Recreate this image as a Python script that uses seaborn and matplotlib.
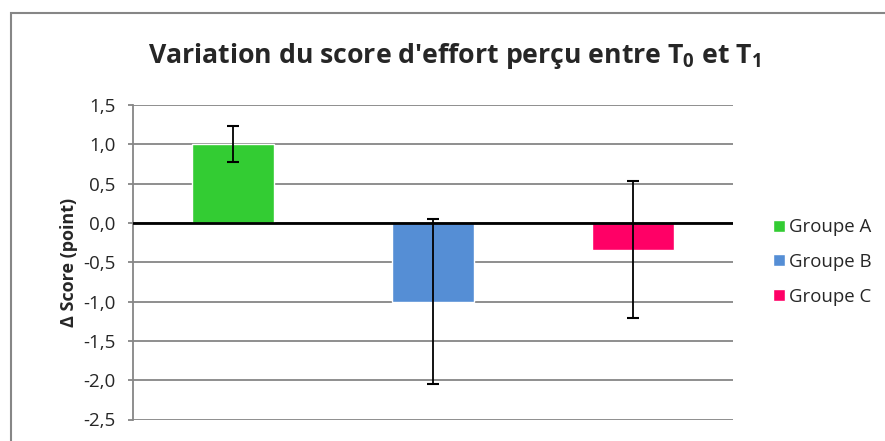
import matplotlib
matplotlib.use('Agg')
import matplotlib.pyplot as plt
from matplotlib.patches import Rectangle, Patch
from matplotlib.ticker import FuncFormatter
import seaborn as sns
import pandas as pd

# data
groups = ['Groupe A', 'Groupe B', 'Groupe C']
delta_score = [1.0, -1.0, -0.34]
error = [0.23, 1.045, 0.875]
colors = ['#33CC33', '#558ED5', '#FF0066']
yticks = [-2.5, -2.0, -1.5, -1.0, -0.5, 0.0, 0.5, 1.0, 1.5]

df = pd.DataFrame({'groupe': groups, 'delta': delta_score})

sns.set_style('white')
plt.rcParams['font.family'] = ['Open Sans', 'DejaVu Sans']
plt.rcParams['mathtext.fontset'] = 'custom'
plt.rcParams['mathtext.rm'] = 'Open Sans'
plt.rcParams['mathtext.bf'] = 'Open Sans:bold'

fig = plt.figure(figsize=(8.85, 4.41), dpi=100)
ax = fig.add_axes([133 / 885, 1 - 419.5 / 441, (733 - 133) / 885, (419.5 - 105) / 441])

sns.barplot(data=df, x='groupe', y='delta', hue='groupe', palette=colors,
            width=0.41, legend=False, ax=ax, saturation=1)
ax.errorbar(range(len(groups)), delta_score, yerr=error, fmt='none',
            ecolor='black', elinewidth=1.3, capsize=4.5, capthick=1.5, zorder=5)

ax.set_xlim(-0.5, 2.5)
ax.set_ylim(-2.5, 1.5)
ax.set_yticks(yticks)
ax.yaxis.set_major_formatter(FuncFormatter(lambda v, p: f'{v:.1f}'.replace('.', ',')))
ax.grid(axis='y', color='#868686', linewidth=1.3)
ax.set_axisbelow(True)
ax.axhline(0, color='black', linewidth=2, zorder=4)
ax.set_xticks([])
ax.set_xlabel('')
ax.tick_params(axis='y', length=3.6, width=1.3, color='#868686', labelsize=13.5, pad=9, left=True)
for side in ['top', 'right', 'bottom']:
    ax.spines[side].set_visible(False)
ax.spines['left'].set_color('#868686')
ax.spines['left'].set_linewidth(1.3)
ax.set_ylabel('Δ Score (point)', fontsize=13, fontweight='bold', labelpad=4)

fig.text(0.514, 0.872, r"Variation du score d'effort perçu entre T$_{\mathbf{0}}$ et T$_{\mathbf{1}}$",
         ha='center', va='center', fontsize=19.2, fontweight='bold')

handles = [Patch(facecolor=c, label=g) for g, c in zip(groups, colors)]
fig.legend(handles=handles, loc='center left', bbox_to_anchor=(766 / 885, 1 - 262 / 441),
           frameon=False, fontsize=13.4, handlelength=0.62, handleheight=0.62,
           handletextpad=0.2, labelspacing=0.9, borderaxespad=0)

# chart-area border (open at right and bottom, as cropped in the reference)
fig.patches.append(Rectangle((11 / 885, -0.2), 2, 1.2 - 13 / 441, transform=fig.transFigure,
                             fill=False, edgecolor='#868686', linewidth=1.5))

fig.savefig('out.png', dpi=100)
